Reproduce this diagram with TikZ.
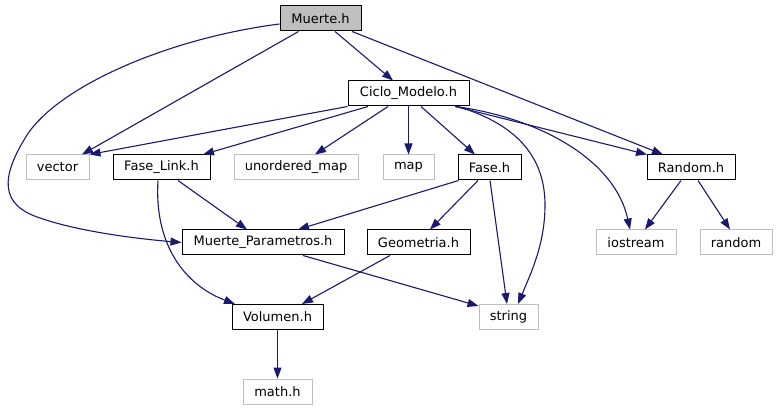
\documentclass[tikz,border=0pt]{standalone}
\usepackage{fontspec}
\setmainfont{DejaVu Sans}
\usetikzlibrary{arrows.meta}
\definecolor{edgecol}{HTML}{191970}
\definecolor{grayb}{HTML}{BFBFBF}
\begin{document}
\begin{tikzpicture}[x=1pt,y=-1pt,
  box/.style={draw=black, line width=1pt, minimum height=25pt, inner sep=0pt,
    font=\fontsize{13}{15}\selectfont, text=black},
  ext/.style={box, draw=grayb},
  dep/.style={draw=edgecol, line width=1.1pt, -{Triangle[length=11pt,width=8pt]}}]
\useasboundingbox[fill=white] (0,0) rectangle (778,411);
% nodes
\node[box, fill=grayb, minimum width=81pt] (mu) at (320.5,18.5) {Muerte.h};
\node[box, minimum width=121pt] (ci) at (408.5,93.5) {Ciclo\_Modelo.h};
\node[ext, minimum width=63pt] (vec) at (57.5,167.5) {vector};
\node[box, minimum width=97pt] (fl) at (161.5,167.5) {Fase\_Link.h};
\node[ext, minimum width=124pt] (um) at (296,167.5) {unordered\_map};
\node[ext, minimum width=51pt] (map) at (408.5,167.5) {map};
\node[box, minimum width=63pt] (fase) at (489.5,167.5) {Fase.h};
\node[box, minimum width=88pt] (rnd) at (691,167.5) {Random.h};
\node[box, minimum width=162pt] (mp) at (263,242.5) {Muerte\_Parametros.h};
\node[box, minimum width=103pt] (geo) at (418.5,242.5) {Geometria.h};
\node[ext, minimum width=80pt] (io) at (636,242.5) {iostream};
\node[ext, minimum width=72pt] (rand) at (736,242.5) {random};
\node[box, minimum width=91pt] (vol) at (277.5,317) {Volumen.h};
\node[ext, minimum width=59pt] (str) at (508.5,317) {string};
\node[ext, minimum width=69pt] (math) at (277.5,391.5) {math.h};
% edges
\draw[dep] ([xshift=14.5pt]mu.south) -- ([xshift=-15.5pt]ci.north);
\draw[dep] ([xshift=-22pt]mu.south) -- ([xshift=24.5pt]vec.north);
\draw[dep] ([xshift=31.5pt]mu.south) -- ([xshift=-28pt]rnd.north);
\draw[dep] ([yshift=-5.5pt]mu.west) .. controls (170,38) and (60,85) .. (27,135)
  .. controls (0,178) and (0,205) .. (40,218)
  .. controls (80,232) and (140,239) .. (mp.west);
\draw[dep] (ci.south west) -- (vec.north east);
\draw[dep] ([xshift=-40.5pt]ci.south) -- ([xshift=41.5pt]fl.north);
\draw[dep] ([xshift=-20.5pt]ci.south) -- ([xshift=19pt]um.north);
\draw[dep] (ci.south) -- (map.north);
\draw[dep] ([xshift=12.5pt]ci.south) -- ([xshift=-14.5pt]fase.north);
\draw[dep] ([xshift=46.5pt]ci.south) -- ([xshift=-44pt]rnd.north);
\draw[dep] ([xshift=49pt]ci.south) .. controls (520,125) and (545,160) .. (545,205)
  .. controls (545,245) and (530,275) .. ([xshift=9.5pt]str.north);
\draw[dep] ([xshift=47pt]ci.south) .. controls (540,118) and (615,160) .. ([xshift=-6pt]io.north);
\draw[dep] ([xshift=16.5pt]fl.south) -- ([xshift=-16pt]mp.north);
\draw[dep] ([xshift=-3.5pt]fl.south) .. controls (154,245) and (185,285) .. ([xshift=-42.5pt]vol.north);
\draw[dep] ([xshift=-31pt]fase.south) -- ([xshift=35pt]mp.north);
\draw[dep] ([xshift=-11.5pt]fase.south) -- ([xshift=11.5pt]geo.north);
\draw[dep] ([xshift=0.5pt]fase.south) -- ([xshift=-1.5pt]str.north);
\draw[dep] ([xshift=-28.5pt]geo.south) -- ([xshift=24.5pt]vol.north);
\draw[dep] ([xshift=40pt]mp.south) -- ([yshift=-2pt]str.north west);
\draw[dep] (vol.south) -- (math.north);
\draw[dep] ([xshift=-10pt]rnd.south) -- ([xshift=9pt]io.north);
\draw[dep] ([xshift=7pt]rnd.south) -- ([xshift=-6pt]rand.north);
\end{tikzpicture}
\end{document}
